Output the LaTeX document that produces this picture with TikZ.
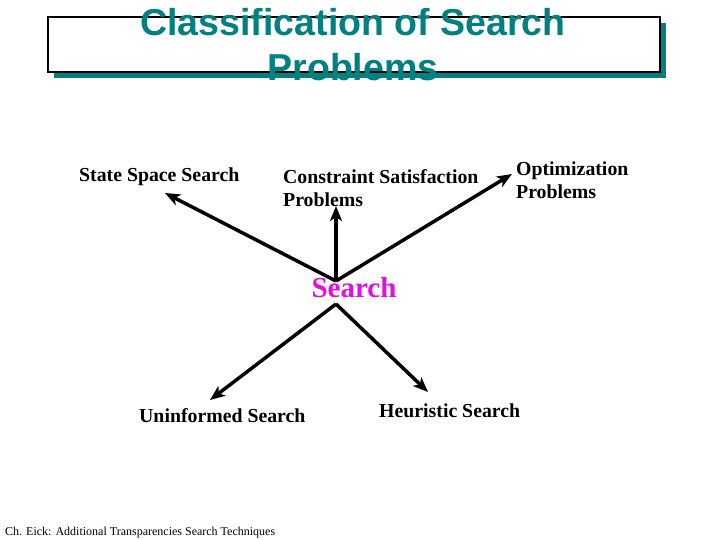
\documentclass[tikz,border=0pt]{standalone}
\usepackage{fontspec}
\setmainfont{Liberation Serif}
\newfontfamily\headfont{Liberation Sans}
\usetikzlibrary{arrows.meta}
\definecolor{titleteal}{RGB}{0,128,128}
\definecolor{hubmagenta}{RGB}{224,16,224}
\tikzset{
  lbl/.style={font=\bfseries\fontsize{19.8}{23}\selectfont, inner sep=0pt, align=left},
  arr/.style={line width=3.5pt, -{Stealth[length=15pt,width=12pt,inset=4pt]}},
}
\begin{document}
\begin{tikzpicture}[x=1pt,y=-1pt]
\useasboundingbox (0,0) rectangle (720,540);
% title box with shadow
\fill[titleteal] (54,23) rectangle (666,78);
\draw[fill=white, line width=1.5pt] (48,17) rectangle (660,72);
\node[font=\headfont\bfseries\fontsize{37.5}{45}\selectfont, text=titleteal, align=center, inner sep=0pt] (title) at (353,45) {Classification of Search\\Problems};
% labels
\node[lbl, anchor=west] (sss) at (79,177) {State Space Search};
\node[lbl, anchor=west] (csp) at (283,188.5) {Constraint Satisfaction\\Problems};
\node[lbl, anchor=west] (opt) at (516,180) {Optimization\\Problems};
\node[font=\bfseries\fontsize{29}{32}\selectfont, text=hubmagenta, inner sep=0pt] (hub) at (354,288) {Search};
\node[lbl, anchor=west] (uni) at (139,416) {Uninformed Search};
\node[lbl, anchor=west] (heu) at (379,411) {Heuristic Search};
\node[font=\fontsize{12}{14}\selectfont, inner sep=0pt, anchor=west] (foot) at (5,533) {Ch. Eick: Additional Transparencies Search Techniques};
% connector ends
\coordinate (hubtop) at (336,281);
\coordinate (hubbot) at (336,304);
\coordinate (tsss) at (165,193);
\coordinate (tcsp) at (336,206);
\coordinate (topt) at (512,174);
\coordinate (tuni) at (210,400);
\coordinate (theu) at (428,392);
\draw[arr] (hubtop) -- (tsss);
\draw[arr] (hubtop) -- (tcsp);
\draw[arr] (hubtop) -- (topt);
\draw[arr] (hubbot) -- (tuni);
\draw[arr] (hubbot) -- (theu);
\end{tikzpicture}
\end{document}
